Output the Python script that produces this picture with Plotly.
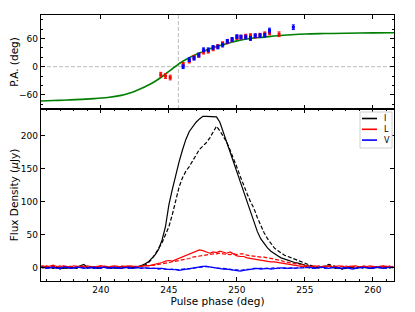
import numpy as np
import plotly.graph_objects as go

# ---------------- data ----------------
phase = np.round(np.arange(235.5, 261.5 + 0.001, 0.25), 2)

I_solid = [1,0,2,1,-1,1,-2,0,-1,1, 0,1,3,5,1,0,1,-1,0,1, 0,-1,1,0,-1,1,2,1,0,1,
           3,6,9,14,20,28,42,62,95,118, 140,160,178,194,206,214,220,225,229,229,
           229,229,228,220,205,190,175,160,145,130, 115,100,82,67,55,44,36,30,25,21,
           18,15,13,11,10,8,7,5,4,3, 2,1,0,1,2,3,1,-1,0,-2,
           0,1,0,-1,1,0,1,-1,0,1, 0,2,1,0,1]
I_dash = [0,1,-1,2,0,1,0,-1,1,2, 0,-1,1,2,0,1,-1,0,2,1, 0,1,-1,0,2,1,0,-1,1,2,
          2,4,8,13,21,29,38,50,62,80, 100,122,136,146,153,161,170,179,184,189,
          196,205,214,207,198,190,178,166,152,138, 124,112,100,90,76,64,53,44,37,30,
          26,22,19,17,15,13,11,8,6,4, 2,1,0,1,3,5,4,2,0,-2,
          -1,1,0,-1,1,0,2,-1,1,0, 1,-1,2,1,0]
L_solid = [2,3,1,2,4,2,1,3,2,1, 3,2,2,1,3,2,1,2,3,2, 1,2,3,2,1,2,2,3,1,2,
           2,3,3,4,6,7,8,10,11,10, 12,14,16,18,20,23,25,27,26,24,
           22,24,23,25,24,22,24,21,18,17, 17,15,14,13,12,11,11,10,9,9,
           8,7,7,5,4,3,3,2,2,1, 2,3,1,2,2,3,1,2,3,2,
           1,2,2,3,1,2,1,3,2,1, 2,3,2,1,2]
L_dash = [1,2,3,1,2,1,3,2,1,2, 2,1,3,2,1,2,2,1,3,2, 2,1,2,1,3,2,1,2,2,1,
          2,3,3,4,4,5,6,7,8,8, 9,11,12,13,14,16,17,18,19,20,
          20,21,21,22,21,20,20,21,20,21, 21,19,18,18,17,16,16,15,15,14,
          13,11,9,8,7,6,5,4,3,2, 2,1,3,2,1,2,3,2,1,2,
          3,1,2,2,1,3,2,1,2,1, 2,2,1,3,1]
V_solid = [0,1,-1,0,1,-1,0,0,1,-1, 0,1,0,-1,0,1,-1,0,0,1, -1,0,1,0,-1,0,1,-1,0,0,
           -1,0,-1,-1,0,-1,-1,-2,-2,-3, -3,-4,-3,-2,-2,-1,0,1,2,2,
           1,0,-1,-1,-2,-2,-3,-3,-4,-5, -4,-3,-2,-2,-1,-2,-1,-1,-2,-1,
           -1,0,-1,-1,0,0,-1,0,0,1, 0,-1,0,1,0,-1,0,1,-1,0,
           0,-1,-2,-1,0,1,0,-1,0,1, 0,-1,0,1,0]
V_dash = [1,0,0,-1,1,0,-1,1,0,0, -1,0,1,0,-1,0,1,0,-1,0, 1,0,0,-1,1,0,-1,0,1,0,
          0,-1,0,-1,-1,-2,-1,-2,-3,-2, -3,-3,-2,-2,-1,-1,0,1,1,2,
          1,0,0,-1,-1,-2,-2,-3,-3,-4, -3,-3,-2,-1,-1,-1,-2,-1,-1,0,
          -1,-1,0,-1,0,-1,0,0,1,0, -1,0,1,0,-1,0,0,1,0,-1,
          1,0,-1,-1,0,0,1,0,-1,0, 1,0,-1,0,1]

pa_red_x = [244.4, 244.75, 245.1, 246.05, 246.5, 246.85, 247.2, 247.55, 247.9, 248.25,
            248.6, 248.95, 249.3, 249.65, 250.0, 250.3, 250.65, 251.0, 251.35, 251.7,
            252.05, 252.4, 253.1]
pa_red_y = [-17, -20, -23, 5, 12, 20, 24, 31, 33, 38,
            43, 49, 53, 57, 62, 63, 65, 66, 65, 67,
            70, 72, 69]
pa_red_err = [5, 5, 5, 4, 4, 4, 4, 4, 4, 4, 4, 4, 4, 4, 4, 4, 4, 4, 4, 4, 4, 4, 5]
pa_blue_x = [246.05, 246.5, 246.85, 247.2, 247.55, 247.9, 248.25, 248.6, 248.95, 249.3,
             249.65, 250.0, 250.3, 250.65, 251.0, 251.35, 251.7, 252.05, 252.4, 254.15]
pa_blue_y = [0, 15, 18, 25, 36, 36, 41, 42, 46, 54,
             58, 64, 63, 63, 60, 66, 66, 67, 77, 84]
pa_blue_err = [4, 4, 4, 4, 4, 4, 4, 4, 4, 4, 4, 4, 4, 4, 4, 4, 4, 4, 5, 5]

fit_x = [235.5, 236.5, 237.5, 238.5, 239.5, 240.5, 241.5, 242.0, 242.5, 243.0, 243.5,
         244.0, 244.5, 245.0, 245.5, 246.0, 246.5, 247.0, 247.5, 248.0, 248.5, 249.0,
         249.5, 250.0, 250.5, 251.0, 252.0, 253.0, 254.0, 255.0, 256.5, 258.0, 260.0, 261.6]
fit_y = [-73, -72, -71, -69.5, -68, -65.5, -61, -57, -52, -46, -39,
         -31, -21, -10, 1, 11, 19, 26, 32, 38, 43, 47,
         51, 55, 58, 60, 63, 66, 68, 69.5, 70.5, 71.3, 72, 72.3]

legend_labels = ["I", "L", "V"]
legend_colors = ["black", "red", "blue"]

phi0 = 245.7
xrange_ = [235.6, 261.55]
DASH = "4px,2px"

# ---------------- figure ----------------
fig = go.Figure()

# bottom panel
fig.add_trace(go.Scatter(x=phase, y=I_solid, mode="lines", name="I",
                         line=dict(color="black", width=1.2), xaxis="x", yaxis="y"))
fig.add_trace(go.Scatter(x=phase, y=I_dash, mode="lines",
                         line=dict(color="black", width=1.2, dash=DASH), xaxis="x", yaxis="y"))
fig.add_trace(go.Scatter(x=phase, y=L_solid, mode="lines", name="L",
                         line=dict(color="red", width=1.2), xaxis="x", yaxis="y"))
fig.add_trace(go.Scatter(x=phase, y=L_dash, mode="lines",
                         line=dict(color="red", width=1.2, dash=DASH), xaxis="x", yaxis="y"))
fig.add_trace(go.Scatter(x=phase, y=V_solid, mode="lines", name="V",
                         line=dict(color="blue", width=1.2), xaxis="x", yaxis="y"))
fig.add_trace(go.Scatter(x=phase, y=V_dash, mode="lines",
                         line=dict(color="blue", width=1.2, dash=DASH), xaxis="x", yaxis="y"))

# top panel
fig.add_trace(go.Scatter(x=fit_x, y=fit_y, mode="lines",
                         line=dict(color="green", width=1.6, shape="spline"),
                         xaxis="x2", yaxis="y2"))
fig.add_trace(go.Scatter(x=pa_red_x, y=pa_red_y, mode="markers",
                         marker=dict(color="red", size=3, symbol="square"),
                         error_y=dict(type="data", array=pa_red_err, color="red",
                                      thickness=1, width=1.5),
                         xaxis="x2", yaxis="y2"))
fig.add_trace(go.Scatter(x=pa_blue_x, y=pa_blue_y, mode="markers",
                         marker=dict(color="blue", size=3, symbol="square"),
                         error_y=dict(type="data", array=pa_blue_err, color="blue",
                                      thickness=1, width=1.5),
                         xaxis="x2", yaxis="y2"))

# the page body offsets the figure by 8 px; plot area wanted at window x 41..394, y 15..281
OFF = 8
FIG_W, FIG_H = 415 - OFF, 312 - OFF
ML, MT = 41 - OFF, 15 - OFF
MR = FIG_W - (394 - OFF)
MB = FIG_H - (281 - OFF)
W, H = 353.0, 266.0
def px(x):
    return (x - 41) / W
def py(y):
    return (281 - y) / H

split = 172 / H
font = dict(family="DejaVu Sans", size=9, color="black")
ax_common = dict(showline=True, linecolor="black", linewidth=1.3, mirror="ticks",
                 ticks="inside", ticklen=4, tickwidth=1, tickcolor="black",
                 showgrid=False, zeroline=False, tickfont=font, automargin=False)
tfont = dict(family="DejaVu Sans", size=10.5, color="black")

shapes = [
    dict(type="line", xref="x2 domain", yref="y2", x0=0, x1=1, y0=0, y1=0,
         line=dict(color="#bbbbbb", width=1, dash="4px,2px"), layer="below"),
    dict(type="line", xref="x2", yref="y2 domain", x0=phi0, x1=phi0, y0=0, y1=1,
         line=dict(color="#bbbbbb", width=1, dash="4px,2px"), layer="below"),
    dict(type="rect", xref="paper", yref="paper", x0=px(360), x1=px(392),
         y0=py(148), y1=py(112), line=dict(color="#d0d0d0", width=1),
         fillcolor="white", layer="above"),
]
annotations = []
for k, (lab, col) in enumerate(zip(legend_labels, legend_colors)):
    yy = 118.5 + 10.8 * k
    shapes.append(dict(type="line", xref="paper", yref="paper", x0=px(362), x1=px(377),
                       y0=py(yy), y1=py(yy), line=dict(color=col, width=1.6),
                       layer="above"))
    annotations.append(dict(text=lab, xref="paper", yref="paper", x=px(382), y=py(yy),
                            xanchor="left", yanchor="middle", showarrow=False,
                            font=dict(family="DejaVu Sans", size=8, color="black")))

fig.update_layout(
    width=FIG_W, height=FIG_H,
    margin=dict(l=ML, r=MR, t=MT, b=MB, pad=0),
    paper_bgcolor="white", plot_bgcolor="white",
    font=font,
    showlegend=False,
    xaxis=dict(domain=[0, 1], range=xrange_, anchor="y",
               tickvals=[240, 245, 250, 255, 260],
               minor=dict(dtick=1, ticklen=2, tickcolor="black", ticks="inside"),
               title=dict(text="Pulse phase (deg)", font=tfont, standoff=3),
               **ax_common),
    yaxis=dict(domain=[0, split], range=[-20, 240], anchor="x",
               tickvals=[0, 50, 100, 150, 200],
               title=dict(text="Flux Density (<i>μ</i>Jy)", font=tfont, standoff=6),
               **ax_common),
    xaxis2=dict(domain=[0, 1], range=xrange_, anchor="y2", matches="x",
                tickvals=[240, 245, 250, 255, 260], showticklabels=False,
                **ax_common),
    yaxis2=dict(domain=[split, 1], range=[-90, 110], anchor="x2",
                tickvals=[-60, 0, 60], ticktext=["\u221260", "0", "60"],
                minor=dict(dtick=20, ticklen=2, tickcolor="black", ticks="inside"),
                title=dict(text="P.A. (deg)", font=tfont, standoff=6),
                **ax_common),
    shapes=shapes,
    annotations=annotations,
)

fig.write_html("out.html")
